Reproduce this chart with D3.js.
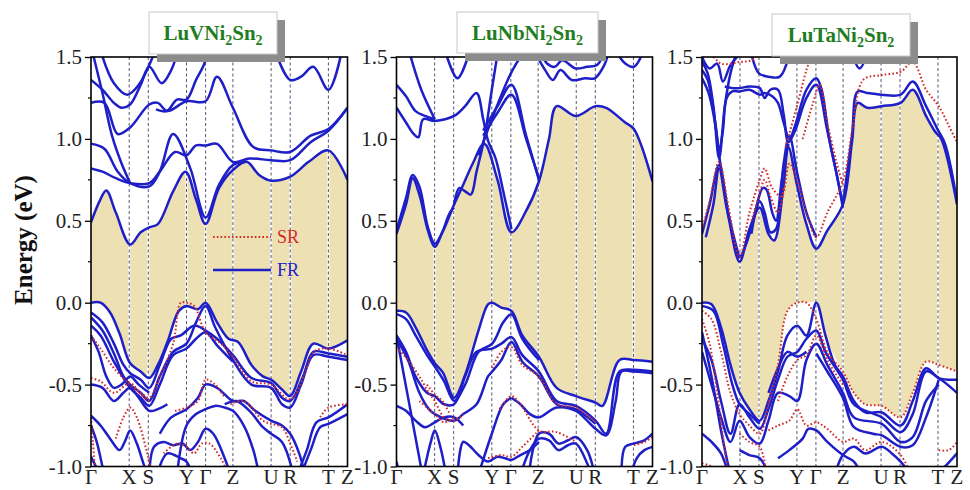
<!DOCTYPE html>
<html><head><meta charset="utf-8">
<script src="https://cdn.jsdelivr.net/npm/d3@7"></script>
<style>body{margin:0;background:#fff}</style></head>
<body>
<svg id="c" width="970" height="490"></svg>
<script>
// ---------- k-path ----------
const kLabels = ["Γ","X","S","Y","Γ","Z","U","R","T","Z"];
const kTicks  = [0, 2, 3, 5, 6, 7.43, 9.43, 10.43, 12.43, 13.43];
const yTicks  = [-1.0, -0.5, 0.0, 0.5, 1.0, 1.5];
const yMinor  = [-0.75, -0.25, 0.25, 0.75, 1.25];
const titles  = [["LuVNi","2","Sn","2"], ["LuNbNi","2","Sn","2"], ["LuTaNi","2","Sn","2"]];
const legendLabels = ["SR", "FR"];

// ---------- LuVNi2Sn2 ----------
const v_cond = [
 [[0,0.49],[0.45,0.62],[0.8,0.685],[1.3,0.55],[2.05,0.355],[2.6,0.43],[3.05,0.46],[3.5,0.48],[4.3,0.68],[4.95,0.8],[5.5,0.63],[6.0,0.48],[6.7,0.7],[7.43,0.81],[8.15,0.86],[8.8,0.78],[9.43,0.745],[10.43,0.77],[11.4,0.86],[12.43,0.93],[13.43,0.75]],
 [[0,0.82],[0.6,0.8],[1.3,0.76],[2.05,0.73],[3.05,0.73],[3.6,0.8],[4.4,0.92],[5.0,0.9],[5.5,0.96],[6.0,0.96],[6.6,0.97],[7.43,0.86],[8.3,0.88],[9.43,0.87],[10.43,0.87],[11.5,0.98],[12.43,1.05],[13.43,1.19]],
 [[0,0.97],[0.7,0.94],[1.4,0.8],[2.05,0.73],[3.05,0.71],[3.6,0.8],[4.3,1.03],[5.2,0.82],[6.0,0.52],[6.7,0.72],[7.43,0.84],[8.15,0.86]],
 [[0,1.22],[0.7,1.22],[1.4,1.03],[2.05,1.07],[3.05,1.21],[3.5,1.22],[4.0,1.17],[5.0,1.23],[6.0,1.23],[6.6,1.38],[7.43,1.19],[8.5,0.95],[9.43,0.93],[10.43,0.92],[11.5,1.02],[12.43,1.06],[13.43,1.19]],
 [[0,1.36],[0.6,1.3],[1.2,1.22],[1.6,1.19],[2.05,1.21],[2.6,1.33],[3.05,1.44],[3.7,1.34],[4.2,1.42],[4.5,1.52]],
 [[0.1,1.52],[0.6,1.28],[1.1,1.02],[1.6,0.85],[2.05,0.73]],
 [[0.55,1.52],[1.2,1.34],[1.9,1.27],[2.5,1.33],[3.3,1.52]],
 [[3.4,1.18],[3.97,1.17],[4.5,1.24],[5.0,1.24],[5.5,1.36],[5.9,1.45],[6.1,1.52]],
 [[9.7,1.52],[10.43,1.36],[11.0,1.38],[11.64,1.44],[12.43,1.3],[13.1,1.52]]
];
const v_val = [
 [[0,0.0],[0.5,0.0],[1.0,-0.06],[1.5,-0.19],[2.05,-0.37],[2.6,-0.42],[3.05,-0.46],[3.5,-0.38],[4.0,-0.24],[4.6,-0.05],[5.0,-0.02],[5.6,-0.04],[6.0,0.0],[6.6,-0.12],[7.2,-0.22],[7.7,-0.24],[8.4,-0.38],[9.0,-0.45],[9.43,-0.47],[10.0,-0.53],[10.43,-0.57],[11.0,-0.42],[11.64,-0.25],[12.43,-0.28],[13.43,-0.23]],
 [[0,-0.06],[0.6,-0.12],[1.2,-0.25],[1.7,-0.38],[2.05,-0.43],[2.6,-0.47],[3.05,-0.52],[3.6,-0.38],[4.2,-0.22],[4.7,-0.2],[5.4,-0.14],[6.0,-0.17],[6.6,-0.22],[7.43,-0.32],[8.4,-0.46],[9.43,-0.49],[10.0,-0.58],[10.43,-0.6],[11.1,-0.45],[11.64,-0.3],[12.43,-0.31],[13.43,-0.33]],
 [[0,-0.09],[0.6,-0.17],[1.2,-0.31],[1.7,-0.45],[2.05,-0.5],[2.6,-0.55],[3.05,-0.6],[3.6,-0.45],[4.3,-0.3],[5.0,-0.25],[5.5,-0.12],[6.0,-0.02],[6.5,-0.15],[7.43,-0.35],[8.4,-0.5],[9.43,-0.52],[10.0,-0.62],[10.43,-0.64],[11.0,-0.5],[11.64,-0.32],[12.43,-0.33],[13.43,-0.35]],
 [[0,-0.14],[0.5,-0.2],[1.2,-0.36],[2.05,-0.52],[2.6,-0.58],[3.05,-0.63],[3.6,-0.5],[4.3,-0.32],[5.0,-0.28],[5.5,-0.22],[6.0,-0.18],[6.6,-0.26],[7.43,-0.36]],
 [[0,-0.5],[0.6,-0.52],[1.2,-0.6],[1.7,-0.55],[2.05,-0.52],[2.5,-0.58],[3.05,-0.66],[3.5,-0.65],[4.0,-0.62]],
 [[0,-0.69],[0.5,-0.75],[1.0,-0.83],[1.5,-0.9],[1.8,-0.84],[2.05,-0.78],[2.4,-0.86],[2.8,-1.0],[3.0,-1.05]],
 [[0,-0.94],[0.25,-1.0],[0.4,-1.05]],
 [[3.6,-0.8],[4.2,-0.7],[5.0,-0.65],[5.6,-0.58],[6.0,-0.5],[6.6,-0.52],[7.43,-0.6],[8.0,-0.6],[8.6,-0.66],[9.43,-0.72],[10.0,-0.75],[10.43,-0.8],[10.9,-0.92],[11.2,-1.05]],
 [[7.0,-0.62],[7.6,-0.6],[8.3,-0.66],[9.0,-0.76],[9.43,-0.8],[10.0,-0.85],[10.6,-1.05]],
 [[10.8,-1.05],[11.3,-0.9],[11.8,-0.73],[12.43,-0.7],[13.43,-0.62]],
 [[11.0,-1.05],[11.5,-0.9],[12.0,-0.76],[12.43,-0.74],[13.43,-0.68]],
 [[3.05,-1.05],[3.3,-0.88],[3.8,-0.85],[4.3,-0.87],[4.8,-0.86],[5.2,-0.9],[5.6,-0.85],[6.0,-0.77],[6.4,-0.8],[7.0,-0.95],[7.3,-1.05]],
 [[3.6,-1.0],[4.0,-0.92],[4.7,-0.95],[5.0,-0.97],[5.3,-1.05]],
 [[4.5,-1.05],[5.0,-0.75],[5.5,-0.68],[6.0,-0.65],[6.5,-0.63],[7.0,-0.64],[7.43,-0.66],[8.0,-0.75],[8.5,-0.9],[8.8,-1.05]],
 [[0,-0.2],[0.4,-0.3],[0.8,-0.45],[1.2,-0.52],[1.6,-0.5],[2.05,-0.45],[2.5,-0.5],[3.05,-0.55]],
 [[0,-0.75],[0.3,-0.85],[0.6,-1.0],[0.7,-1.05]]
];
const v_sr = [
 [[0,-0.2],[0.5,-0.28],[1.2,-0.4],[2.05,-0.5],[2.6,-0.55],[3.05,-0.58],[3.6,-0.45],[4.3,-0.25],[4.7,0.0],[5.0,0.0],[5.4,-0.02],[6.0,-0.18],[6.8,-0.25],[7.43,-0.33],[8.4,-0.48],[9.43,-0.5],[10.43,-0.59],[11.3,-0.4],[11.64,-0.3],[12.43,-0.28],[13.43,-0.32]],
 [[0,-0.46],[0.5,-0.48],[1.2,-0.55],[2.05,-0.49],[2.6,-0.56],[3.05,-0.6]],
 [[1.3,-0.83],[1.7,-0.7],[2.05,-0.64],[2.4,-0.7],[2.9,-0.9],[3.1,-1.0]],
 [[3.8,-0.92],[4.5,-0.86],[5.0,-0.88],[5.4,-0.92],[5.8,-0.86],[6.2,-0.86],[6.8,-0.95],[7.0,-1.0]],
 [[4.4,-0.66],[5.0,-0.64],[5.6,-0.6],[6.0,-0.47],[6.5,-0.5],[7.0,-0.58]],
 [[7.3,-0.62],[8.0,-0.6],[9.0,-0.72],[9.43,-0.74],[10.0,-0.76],[10.43,-0.86],[10.8,-0.97]],
 [[12.0,-0.7],[12.43,-0.64],[13.43,-0.62]],
 [[0,-0.7],[0.1,-0.85],[0.2,-1.0]]
];

// ---------- LuNbNi2Sn2 ----------
const nb_cond = [
 [[0,0.44],[0.5,0.64],[0.85,0.78],[1.2,0.71],[1.65,0.46],[2.01,0.36],[2.45,0.44],[3.02,0.6],[3.5,0.72],[4.0,0.85],[4.6,0.97],[5.3,0.75],[6.03,0.43],[6.8,0.56],[7.47,0.74],[8.0,1.0],[8.4,1.2],[9.41,1.14],[10.44,1.2],[11.0,1.19],[12.0,1.1],[12.45,1.06],[13.43,0.74]],
 [[0,0.42],[0.5,0.6],[0.85,0.76],[1.2,0.66],[1.65,0.44],[2.01,0.34],[2.4,0.43],[2.8,0.55],[3.02,0.58]],
 [[0,1.19],[0.5,1.1],[0.9,1.03],[1.15,1.01],[1.4,1.12],[2.01,1.11],[3.02,1.14],[3.6,1.2],[4.2,1.28],[4.55,1.12],[4.8,0.99],[5.2,0.88],[5.6,0.68],[6.03,0.45]],
 [[0,1.33],[0.5,1.26],[1.0,1.17],[1.5,1.14],[2.01,1.12]],
 [[0.7,1.52],[1.3,1.3],[2.01,1.12]],
 [[2.6,1.52],[3.2,1.37],[3.8,1.52]],
 [[4.55,1.05],[5.3,1.2],[6.03,1.33],[6.8,1.02],[7.47,0.75]],
 [[4.55,1.02],[5.3,1.16],[6.03,1.27],[6.8,1.0],[7.47,0.76]],
 [[4.3,0.9],[5.2,1.18],[6.0,1.4],[6.6,1.52]],
 [[3.02,0.6],[3.3,0.7],[3.6,0.68],[3.9,0.66],[4.2,0.8],[4.6,1.0],[5.0,1.3],[5.3,1.52]],
 [[7.3,1.52],[7.8,1.42],[8.2,1.36],[8.6,1.42],[9.2,1.36],[9.9,1.37],[10.4,1.37],[10.9,1.45],[11.1,1.52]],
 [[7.6,1.52],[7.9,1.46],[8.3,1.44],[8.7,1.48],[9.4,1.43],[10.0,1.44],[10.5,1.45],[10.9,1.52]],
 [[11.6,1.52],[12.0,1.46],[12.45,1.44],[12.9,1.52]]
];
const nb_val = [
 [[0,-0.05],[0.5,-0.06],[1.0,-0.15],[1.6,-0.29],[2.01,-0.37],[2.45,-0.43],[3.02,-0.58],[3.6,-0.44],[4.3,-0.17],[4.8,-0.01],[5.02,0.0],[5.5,-0.03],[6.03,-0.05],[6.6,-0.2],[7.47,-0.33],[8.4,-0.52],[9.41,-0.57],[10.44,-0.61],[10.8,-0.63],[11.7,-0.35],[12.45,-0.35],[13.43,-0.36]],
 [[0,-0.2],[0.5,-0.3],[1.0,-0.45],[1.6,-0.55],[2.01,-0.57],[2.5,-0.62],[3.02,-0.62],[3.6,-0.45],[4.2,-0.3],[5.02,-0.28],[5.5,-0.25],[6.03,-0.21],[6.6,-0.32],[7.47,-0.42],[8.4,-0.6],[9.41,-0.63],[10.44,-0.72],[11.0,-0.8],[11.7,-0.42],[12.45,-0.41],[13.43,-0.42]],
 [[0,-0.22],[0.6,-0.35],[1.2,-0.55],[1.7,-0.65],[2.01,-0.68],[3.02,-0.72],[3.5,-0.68],[4.2,-0.62],[4.8,-0.45],[5.02,-0.42],[5.5,-0.35],[6.03,-0.24],[6.6,-0.36],[7.47,-0.45],[8.4,-0.62],[9.41,-0.65],[10.44,-0.74]],
 [[0,-0.07],[0.5,-0.1],[1.0,-0.2],[1.6,-0.32],[2.01,-0.39],[2.5,-0.48],[3.02,-0.6],[3.6,-0.5],[4.3,-0.3],[5.02,-0.25],[5.6,-0.12],[6.03,-0.07],[6.6,-0.22],[7.47,-0.35]],
 [[6.03,-0.58],[6.5,-0.62],[7.0,-0.68],[7.47,-0.7],[8.4,-0.64],[9.41,-0.66],[10.0,-0.72],[10.44,-0.77],[11.0,-0.81],[11.5,-0.6],[11.8,-0.42],[12.45,-0.42],[13.43,-0.43]],
 [[4.3,-1.05],[5.0,-0.8],[5.6,-0.62],[6.03,-0.58]],
 [[7.0,-1.0],[7.47,-0.8],[8.0,-0.8],[8.5,-0.86],[9.0,-0.84],[9.41,-0.82],[10.0,-0.9],[10.4,-1.05]],
 [[6.5,-1.05],[7.0,-0.9],[7.47,-0.83],[8.0,-0.84],[8.5,-0.9],[9.0,-0.87],[9.41,-0.86],[10.0,-0.98],[10.2,-1.05]],
 [[11.8,-1.05],[12.0,-0.88],[12.45,-0.86],[13.0,-0.84],[13.43,-0.8]],
 [[12.3,-1.05],[12.6,-0.95],[13.0,-0.9],[13.43,-0.88]],
 [[0,-0.63],[0.5,-0.66],[1.0,-0.72],[1.5,-0.76],[2.01,-0.73],[2.5,-0.7],[3.02,-0.7],[3.5,-0.75]],
 [[1.4,-1.05],[1.8,-0.85],[2.01,-0.78],[2.3,-0.88],[2.6,-1.05]],
 [[3.2,-1.05],[3.5,-0.85],[3.8,-0.87],[4.3,-0.93],[4.8,-0.97],[5.3,-0.94],[5.7,-0.95],[6.03,-0.96],[6.5,-0.93],[7.0,-0.9],[7.47,-0.85]],
 [[0,-0.2],[0.4,-0.45],[0.8,-0.7],[1.2,-0.95],[1.35,-1.05]],
 [[0,-0.97],[0.15,-1.05]]
];
const nb_sr = [
 [[0,-0.27],[0.6,-0.35],[1.2,-0.45],[1.7,-0.55],[2.01,-0.6],[2.5,-0.7],[3.02,-0.72],[3.5,-0.68]],
 [[1.2,-0.6],[1.8,-0.66],[2.01,-0.68],[2.5,-0.73],[3.02,-0.7]],
 [[1.6,-0.5],[2.01,-0.56],[2.4,-0.6],[2.8,-0.68]],
 [[5.02,-0.4],[5.5,-0.3],[6.03,-0.27],[6.6,-0.38],[7.47,-0.45],[8.4,-0.62],[9.41,-0.64],[10.44,-0.73]],
 [[5.4,-0.65],[6.03,-0.57],[6.5,-0.62],[7.47,-0.78],[8.4,-0.79],[9.41,-0.85]],
 [[4.8,-0.95],[5.5,-0.93],[6.03,-0.94],[6.6,-0.88],[7.47,-0.78]],
 [[12.45,-0.87],[13.0,-0.85],[13.43,-0.82]]
];

// ---------- LuTaNi2Sn2 ----------
const ta_cond = [
 [[0,0.42],[0.4,0.6],[0.9,0.84],[1.4,0.52],[1.98,0.25],[2.5,0.45],[3.04,0.58],[3.5,0.42],[3.8,0.38],[4.3,0.72],[4.55,0.95],[5.0,0.72],[5.5,0.48],[6.02,0.33],[6.6,0.44],[7.42,0.6],[7.9,0.98],[8.2,1.22],[8.7,1.19],[9.47,1.2],[10.46,1.22],[11.1,1.3],[11.8,1.14],[12.3,1.04],[12.6,1.0],[13.43,0.6]],
 [[7.42,0.6],[7.9,1.02],[8.2,1.29],[8.7,1.28],[9.47,1.27],[10.46,1.27],[11.1,1.35],[11.8,1.2],[12.4,1.06],[12.8,0.97],[13.43,0.62]],
 [[0,1.37],[0.35,1.28],[0.75,1.05],[0.9,0.9],[1.2,0.68],[1.5,0.48],[1.98,0.28],[2.3,0.35],[2.7,0.5],[3.04,0.62],[3.3,0.55],[3.6,0.43],[3.9,0.45],[4.3,0.85],[4.6,1.02],[5.0,0.8],[5.5,0.55],[6.02,0.4]],
 [[0,1.42],[0.3,1.36],[0.7,1.1],[0.9,0.93],[1.1,1.05],[1.3,1.25],[1.6,1.29],[1.98,1.29],[2.5,1.3],[3.04,1.27],[3.3,1.28],[3.7,1.26],[4.0,1.22],[4.3,1.1],[4.6,1.0],[4.9,1.08],[5.5,1.3],[6.02,1.37],[6.3,1.3],[6.7,1.0],[7.1,0.78],[7.42,0.58]],
 [[1.2,1.32],[1.6,1.31],[1.98,1.31],[2.5,1.32],[3.04,1.31],[3.3,1.25],[3.6,1.3],[4.0,1.3],[4.3,1.15],[4.55,0.98],[4.9,1.05],[5.5,1.25],[6.02,1.33],[6.6,1.05],[7.42,0.6]],
 [[2.6,0.42],[2.9,0.6],[3.2,0.7],[3.4,0.69],[3.7,0.55],[3.9,0.5],[4.2,0.75],[4.55,0.97]],
 [[2.6,1.52],[3.0,1.4],[3.5,1.38],[4.1,1.38],[4.6,1.52]],
 [[0,1.5],[0.4,1.43],[0.8,1.46],[1.1,1.35],[1.5,1.45],[2.0,1.52]],
 [[7.9,1.52],[8.3,1.43],[8.7,1.52]],
 [[0,1.47],[0.3,1.4],[0.6,1.2],[0.9,0.88],[1.2,1.2],[1.5,1.4],[1.8,1.52]],
 [[0.2,0.4],[0.6,0.6],[0.9,0.82],[1.3,0.58],[1.98,0.27]]
];
const ta_val = [
 [[0,0.0],[0.5,-0.01],[1.0,-0.15],[1.5,-0.38],[1.98,-0.55],[2.5,-0.65],[3.04,-0.72],[3.5,-0.6],[4.0,-0.42],[4.5,-0.2],[5.02,-0.14],[5.5,-0.2],[6.02,0.0],[6.5,-0.2],[7.0,-0.38],[7.42,-0.45],[8.0,-0.6],[8.6,-0.67],[9.47,-0.67],[10.46,-0.75],[11.1,-0.6],[11.8,-0.4],[12.47,-0.46],[13.43,-0.47]],
 [[0,-0.22],[0.5,-0.35],[1.0,-0.6],[1.5,-0.8],[1.98,-0.62],[2.5,-0.7],[3.04,-0.77],[3.5,-0.65],[4.0,-0.47],[4.5,-0.33],[5.02,-0.3],[5.5,-0.22],[6.02,-0.17],[6.5,-0.3],[7.42,-0.47],[8.0,-0.62],[9.47,-0.7],[10.46,-0.79],[11.1,-0.68],[11.8,-0.42],[12.47,-0.46],[13.43,-0.55]],
 [[0,-0.3],[0.5,-0.5],[1.0,-0.7],[1.5,-0.85],[1.98,-0.72],[2.5,-0.82],[3.04,-0.86],[3.5,-0.72],[4.0,-0.55],[4.6,-0.57],[5.02,-0.6],[5.5,-0.35],[6.02,-0.25],[6.6,-0.38],[7.42,-0.55],[8.0,-0.7],[9.47,-0.74],[10.46,-0.85],[11.1,-0.82],[11.8,-0.6],[12.47,-0.5]],
 [[6.02,-0.31],[6.6,-0.42],[7.42,-0.58],[8.0,-0.76],[9.0,-0.8],[9.47,-0.81],[10.46,-0.88],[11.1,-0.87],[11.8,-0.7],[12.47,-0.47]],
 [[4.0,-0.95],[4.6,-0.9],[5.3,-0.83],[5.6,-0.77],[6.02,-0.78],[6.6,-0.85],[7.42,-0.93],[8.0,-0.97],[8.4,-1.05]],
 [[7.0,-1.05],[7.42,-0.93],[8.0,-0.88],[8.6,-0.92],[9.47,-0.88],[10.0,-0.92],[10.46,-0.97],[11.0,-1.05]],
 [[0,-0.8],[0.5,-0.85],[1.0,-0.92],[1.4,-1.05]],
 [[0,-0.18],[0.5,-0.45],[1.0,-0.78],[1.3,-0.95],[1.5,-1.05]],
 [[1.98,-0.9],[2.5,-0.93],[3.04,-0.95],[3.5,-1.05]],
 [[12.3,-1.05],[12.8,-1.0],[13.43,-0.92]],
 [[0,-0.02],[0.6,-0.05],[1.1,-0.25],[1.6,-0.5],[1.98,-0.62],[2.5,-0.68],[3.04,-0.74]],
 [[3.5,-0.55],[4.0,-0.4],[4.5,-0.3],[5.02,-0.33],[5.5,-0.3]]
];
const ta_sr = [
 [[0,0.45],[0.4,0.62],[0.9,0.86],[1.4,0.58],[1.98,0.28],[2.5,0.55],[3.04,0.75],[3.3,0.82],[3.7,0.7],[4.2,0.65],[4.6,0.85],[5.0,0.75],[5.5,0.55],[6.02,0.4],[6.6,0.55],[7.42,0.74],[7.9,1.05],[8.3,1.32],[8.6,1.37],[9.47,1.39],[10.46,1.41],[11.1,1.47],[11.8,1.3],[12.47,1.2],[13.0,1.08],[13.43,0.98]],
 [[0.5,1.52],[1.0,1.46],[2.0,1.47],[2.6,1.48],[3.0,1.52]],
 [[4.4,0.95],[5.0,1.2],[5.5,1.42],[5.8,1.52]],
 [[2.6,0.5],[3.0,0.65],[3.3,0.75],[3.6,0.65],[4.0,0.55],[4.3,0.7]],
 [[5.3,1.0],[5.8,1.2],[6.2,1.33],[6.6,1.1],[7.1,0.85],[7.42,0.72]],
 [[0,-0.05],[0.5,-0.1],[1.0,-0.3],[1.5,-0.55],[1.98,-0.68],[2.5,-0.75],[3.04,-0.8],[3.5,-0.62],[4.0,-0.38],[4.5,-0.05],[5.0,0.0],[5.5,0.0],[6.02,-0.1],[6.6,-0.3],[7.42,-0.42],[8.0,-0.55],[8.6,-0.62],[9.47,-0.63],[10.46,-0.7],[11.1,-0.55],[11.8,-0.36],[12.47,-0.38],[13.43,-0.42]],
 [[4.0,-0.6],[4.5,-0.45],[5.02,-0.35],[5.5,-0.32],[6.02,-0.2],[6.6,-0.35],[7.42,-0.5]],
 [[3.5,-0.78],[4.0,-0.75],[4.6,-0.72],[5.02,-0.65],[5.5,-0.75],[6.02,-0.73],[6.6,-0.77],[7.42,-0.85],[8.0,-0.83],[8.6,-0.9],[9.47,-0.85],[10.46,-0.93],[11.0,-1.05]],
 [[1.98,-0.8],[2.5,-0.85],[3.04,-0.88],[3.4,-1.05]],
 [[0,-0.1],[0.4,-0.25],[0.8,-0.55],[1.2,-0.9],[1.4,-1.05]],
 [[12.47,-0.9],[13.0,-0.9],[13.43,-0.85]],
 [[0,-0.98],[0.5,-1.0],[1.0,-1.05]]
];
const ta_gapBottom = [[0,0.0],[0.5,-0.01],[1.0,-0.15],[1.5,-0.38],[1.98,-0.55],[2.5,-0.65],[3.04,-0.72],[3.5,-0.58],[4.0,-0.38],[4.5,-0.05],[5.0,0.0],[5.5,0.0],[6.02,0.0],[6.5,-0.2],[7.0,-0.33],[7.42,-0.42],[8.0,-0.55],[8.6,-0.62],[9.47,-0.63],[10.46,-0.7],[11.1,-0.55],[11.8,-0.36],[12.47,-0.38],[13.43,-0.42]];

// ---------- drawing ----------
const svg = d3.select("#c");
svg.append("rect").attr("width",970).attr("height",490).attr("fill","#fff");

const BLUE = "#1f1fc8", RED = "#d22a2a", TAN = "#ede1b4", GREEN = "#1f7d22";
const SERIF = "'Liberation Serif','Times New Roman',Times,serif";
const yTop = 57, yBot = 466.5;
const panels = [
 {x0:91,    x1:347.5, cond:v_cond,  val:v_val,  sr:v_sr,  top:v_cond[0],  bottom:v_val[0],   title:titles[0], box:[149,12,128,42]},
 {x0:396.5, x1:652.5, cond:nb_cond, val:nb_val, sr:nb_sr, top:nb_cond[0], bottom:nb_val[0],  title:titles[1], box:[457,12,141,41]},
 {x0:702,   x1:957,   cond:ta_cond, val:ta_val, sr:ta_sr, top:ta_cond[0], bottom:ta_gapBottom, title:titles[2], box:[772,14,138,42]}
];

panels.forEach((p, i) => {
  const x = d3.scaleLinear().domain([0, 13.43]).range([p.x0, p.x1]);
  const y = d3.scaleLinear().domain([-1.0, 1.5]).range([yBot, yTop]);
  const line = d3.line().x(d => x(d[0])).y(d => y(d[1])).curve(d3.curveCatmullRom.alpha(0.5));
  const g = svg.append("g");
  const cid = "clip" + i;
  svg.append("clipPath").attr("id", cid).append("rect")
    .attr("x", p.x0).attr("y", yTop).attr("width", p.x1 - p.x0).attr("height", yBot - yTop);
  const inner = g.append("g").attr("clip-path", `url(#${cid})`);

  // tan gap region
  const topPath = line(p.top);
  const botPath = line(p.bottom.slice().reverse());
  inner.append("path").attr("d", topPath + "L" + botPath.slice(1) + "Z").attr("fill", TAN);

  // vertical high-symmetry lines
  kTicks.slice(1, -1).forEach(k => {
    inner.append("line").attr("x1", x(k)).attr("x2", x(k)).attr("y1", yTop).attr("y2", yBot)
      .attr("stroke", "#ffffff").attr("stroke-width", 2);
    inner.append("line").attr("x1", x(k)).attr("x2", x(k)).attr("y1", yTop).attr("y2", yBot)
      .attr("stroke", "#55557a").attr("stroke-width", 1).attr("stroke-dasharray", "3,2.5");
  });

  // FR bands (blue)
  [...p.cond, ...p.val].forEach(b => {
    inner.append("path").attr("d", line(b)).attr("fill", "none")
      .attr("stroke", BLUE).attr("stroke-width", 2.5).attr("stroke-linejoin", "round");
  });
  // SR bands (red dotted)
  p.sr.forEach(b => {
    inner.append("path").attr("d", line(b)).attr("fill", "none")
      .attr("stroke", RED).attr("stroke-width", 2).attr("stroke-dasharray", "1.6,2.2");
  });

  // frame
  g.append("rect").attr("x", p.x0).attr("y", yTop).attr("width", p.x1 - p.x0).attr("height", yBot - yTop)
    .attr("fill", "none").attr("stroke", "#000").attr("stroke-width", 1.6);

  // y axis
  const ax = g.append("g").attr("transform", `translate(${p.x0},0)`)
    .call(d3.axisLeft(y).tickValues(yTicks).tickFormat(d => d.toFixed(1)).tickSize(6).tickPadding(3));
  ax.attr("font-family", SERIF);
  ax.select(".domain").remove();
  ax.selectAll("text").attr("font-family", SERIF).attr("font-size", 21).attr("fill", "#222");
  ax.selectAll("line").attr("stroke", "#000").attr("stroke-width", 1.3);
  yMinor.forEach(v => g.append("line").attr("x1", p.x0 - 3).attr("x2", p.x0)
    .attr("y1", y(v)).attr("y2", y(v)).attr("stroke", "#000").attr("stroke-width", 1.2));

  // k labels
  kTicks.forEach((k, j) => {
    g.append("text").attr("x", x(k)).attr("y", 484).attr("text-anchor", "middle")
      .attr("font-family", SERIF).attr("font-size", 21)
      .attr("fill", "#222").text(kLabels[j]);
  });

  // title box
  const [bx, by, bw, bh] = p.box;
  g.append("rect").attr("x", bx + 8).attr("y", by + 8).attr("width", bw).attr("height", bh).attr("fill", "#8c8c8c");
  g.append("rect").attr("x", bx).attr("y", by).attr("width", bw).attr("height", bh)
    .attr("fill", "#fff").attr("stroke", "#c8c8c8").attr("stroke-width", 1);
  const t = g.append("text").attr("x", bx + bw / 2).attr("y", by + 28).attr("text-anchor", "middle")
    .attr("font-family", SERIF).attr("font-weight", "bold")
    .attr("font-size", 21).attr("fill", GREEN);
  t.append("tspan").text(p.title[0]);
  t.append("tspan").attr("font-size", 14).attr("dy", 5).text(p.title[1]);
  t.append("tspan").attr("dy", -5).text(p.title[2]);
  t.append("tspan").attr("font-size", 14).attr("dy", 5).text(p.title[3]);
});

// legend (panel 1)
svg.append("line").attr("x1", 213).attr("x2", 271).attr("y1", 237).attr("y2", 237)
  .attr("stroke", RED).attr("stroke-width", 2).attr("stroke-dasharray", "1.6,2.2");
svg.append("text").attr("x", 277).attr("y", 243).attr("font-family", SERIF)
  .attr("font-size", 18).attr("fill", RED).text(legendLabels[0]);
svg.append("line").attr("x1", 213).attr("x2", 271).attr("y1", 270).attr("y2", 270)
  .attr("stroke", BLUE).attr("stroke-width", 2.5);
svg.append("text").attr("x", 277).attr("y", 276).attr("font-family", SERIF)
  .attr("font-size", 18).attr("fill", BLUE).text(legendLabels[1]);

// y-axis title
svg.append("text").attr("transform", "translate(32,240) rotate(-90)").attr("text-anchor", "middle")
  .attr("font-family", SERIF).attr("font-weight", "bold")
  .attr("font-size", 25).attr("fill", "#111").text("Energy (eV)");
</script>
</body></html>
